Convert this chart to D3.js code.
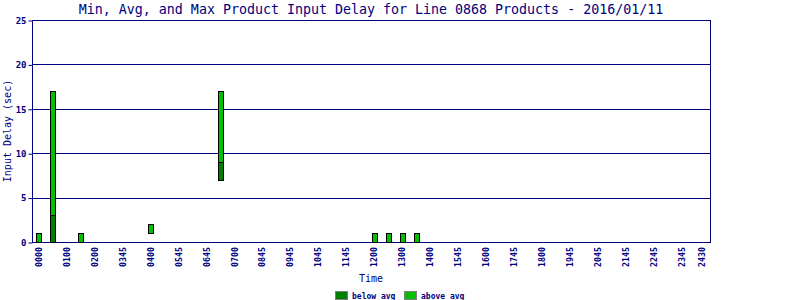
<!DOCTYPE html>
<html>
<head>
<meta charset="utf-8">
<script src="https://cdn.jsdelivr.net/npm/d3@7"></script>
<style>
  body { margin: 0; background: #fff; }
  text { font-family: "DejaVu Sans Mono", monospace; fill: #000080; }
</style>
</head>
<body>
<script>
// time slots (hours) and delay values
const slotHours = [0, 0.5, 1.5, 4, 6.5, 12, 12.5, 13, 13.5];
const minDelay = [0, 0, 0, 1, 7, 0, 0, 0, 0];
const avgDelay = [0, 3, 0, 1, 9, 0, 0, 0, 0];
const maxDelay = [1, 17, 1, 2, 17, 1, 1, 1, 1];
// x tick labels and where they sit (hours)
const tickLabels = ["0000", "0100", "0200", "0345", "0400", "0545", "0645", "0700", "0845", "0945",
  "1045", "1145", "1200", "1300", "1400", "1545", "1600", "1745", "1800", "1945",
  "2045", "2145", "2245", "2345", "2430"];
const tickHours = [0, 1, 2, 3, 4, 5, 6, 7, 8, 9, 10, 11, 12, 13, 14, 15, 16, 17, 18, 19, 20, 21, 22, 23, 23.72];
const yTicks = [0, 5, 10, 15, 20, 25];

let width = 800, height = 300;
let plotLeft = 32, plotRight = 710, plotTop = 20, plotBottom = 242;
let navy = "#000080";
let darkGreen = "#008000", lightGreen = "#00c000";

let svg = d3.select("body").append("svg")
  .attr("width", width)
  .attr("height", height);

let xScale = d3.scaleLinear().domain([-0.24, 24]).range([plotLeft, plotRight]);
let yScale = d3.scaleLinear().domain([0, 25]).range([plotBottom, plotTop]);

//title
svg.append("text")
  .attr("x", (plotLeft + plotRight) / 2)
  .attr("y", 14)
  .attr("text-anchor", "middle")
  .style("font-size", "13.3px")
  .text("Min, Avg, and Max Product Input Delay for Line 0868 Products - 2016/01/11");

//grid lines
svg.append("g").selectAll("line")
  .data(yTicks.slice(1, -1))
  .join("line")
  .attr("x1", plotLeft)
  .attr("x2", plotRight)
  .attr("y1", d => Math.round(yScale(d)) + 0.5)
  .attr("y2", d => Math.round(yScale(d)) + 0.5)
  .style("stroke", navy);

//y axis
let yAxis = d3.axisLeft(yScale).tickValues(yTicks).tickSize(4).tickPadding(2);
let gy = svg.append("g")
  .attr("transform", "translate(" + (plotLeft + 0.5) + ",0.5)")
  .call(yAxis);
gy.select(".domain").remove();
gy.selectAll("line").style("stroke", navy);
gy.selectAll("text")
  .style("font-size", "9px")
  .style("font-weight", "bold")
  .style("fill", navy);

//plot frame
svg.append("rect")
  .attr("x", plotLeft + 0.5)
  .attr("y", plotTop + 0.5)
  .attr("width", plotRight - plotLeft)
  .attr("height", plotBottom - plotTop)
  .style("fill", "none")
  .style("stroke", navy);

//bars
let barW = xScale(0.19) - xScale(0);
let bars = svg.append("g");
slotHours.forEach(function (h, i) {
  let x0 = Math.round(xScale(h) - barW / 2) + 0.5;
  if (avgDelay[i] > minDelay[i]) {
    bars.append("rect")
      .attr("x", x0)
      .attr("y", Math.round(yScale(avgDelay[i])) + 0.5)
      .attr("width", Math.round(barW))
      .attr("height", Math.round(yScale(minDelay[i])) - Math.round(yScale(avgDelay[i])))
      .style("fill", darkGreen)
      .style("stroke", "#000");
  }
  if (maxDelay[i] > avgDelay[i]) {
    bars.append("rect")
      .attr("x", x0)
      .attr("y", Math.round(yScale(maxDelay[i])) + 0.5)
      .attr("width", Math.round(barW))
      .attr("height", Math.round(yScale(avgDelay[i])) - Math.round(yScale(maxDelay[i])))
      .style("fill", lightGreen)
      .style("stroke", "#000");
  }
});

//x tick labels
svg.append("g").selectAll("text")
  .data(tickLabels)
  .join("text")
  .attr("transform", (d, i) => "translate(" + (xScale(tickHours[i]) + 3) + "," + (plotBottom + 5) + ") rotate(-90)")
  .attr("text-anchor", "end")
  .style("font-size", "8.3px")
  .style("font-weight", "bold")
  .text(d => d);

//axis titles
svg.append("text")
  .attr("x", (plotLeft + plotRight) / 2)
  .attr("y", 282)
  .attr("text-anchor", "middle")
  .style("font-size", "10px")
  .text("Time");

svg.append("text")
  .attr("transform", "translate(11," + ((plotTop + plotBottom) / 2) + ") rotate(-90)")
  .attr("text-anchor", "middle")
  .style("font-size", "10px")
  .text("Input Delay (sec)");

//legend
let legend = [{ label: "below avg", color: darkGreen, x: 335 }, { label: "above avg", color: lightGreen, x: 404 }];
let lg = svg.append("g").selectAll("g")
  .data(legend)
  .join("g")
  .attr("transform", d => "translate(" + d.x + ",291)");
lg.append("rect")
  .attr("x", 0.5).attr("y", 0.5)
  .attr("width", 12).attr("height", 8)
  .style("fill", d => d.color)
  .style("stroke", "#808080");
lg.append("text")
  .attr("x", 17)
  .attr("y", 7.5)
  .style("font-size", "8px")
  .style("font-weight", "bold")
  .text(d => d.label);
</script>
</body>
</html>
